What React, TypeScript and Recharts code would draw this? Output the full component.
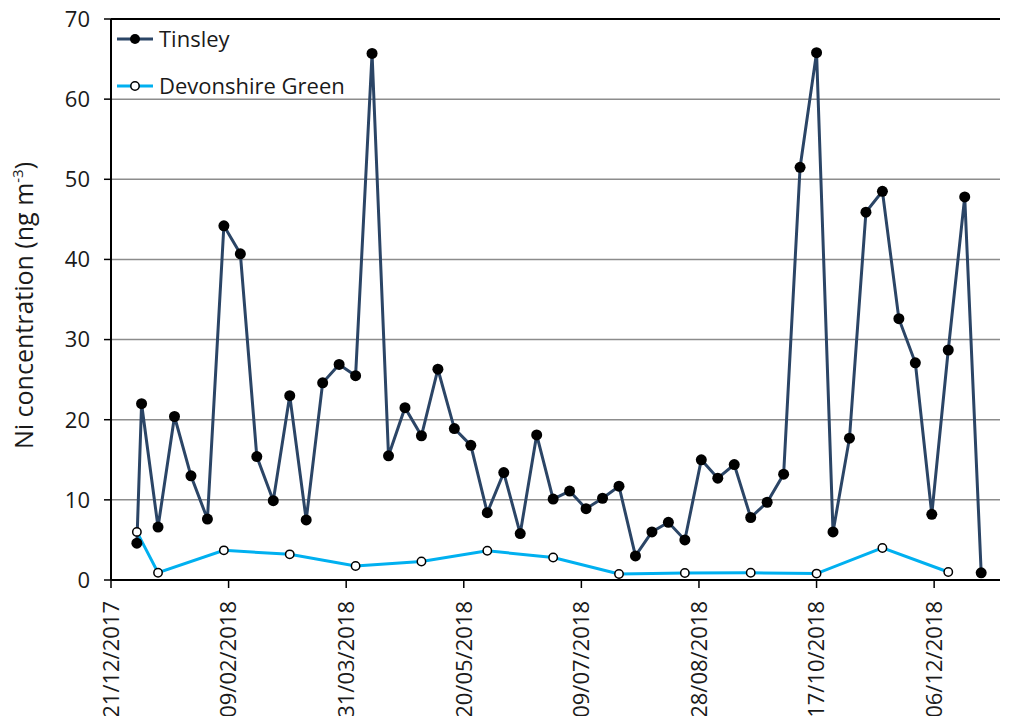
import React from "react";
import {
  LineChart,
  Line,
  XAxis,
  YAxis,
  CartesianGrid,
  ReferenceLine,
  Label,
} from "recharts";

// Sampling dates (dd/mm/yyyy) and Ni concentrations (ng m-3)
const tinsleyDates = [
  "01/01/2018", "03/01/2018", "10/01/2018", "17/01/2018", "24/01/2018", "31/01/2018",
  "07/02/2018", "14/02/2018", "21/02/2018", "28/02/2018", "07/03/2018", "14/03/2018",
  "21/03/2018", "28/03/2018", "04/04/2018", "11/04/2018", "18/04/2018", "25/04/2018",
  "02/05/2018", "09/05/2018", "16/05/2018", "23/05/2018", "30/05/2018", "06/06/2018",
  "13/06/2018", "20/06/2018", "27/06/2018", "04/07/2018", "11/07/2018", "18/07/2018",
  "25/07/2018", "01/08/2018", "08/08/2018", "15/08/2018", "22/08/2018", "29/08/2018",
  "05/09/2018", "12/09/2018", "19/09/2018", "26/09/2018", "03/10/2018", "10/10/2018",
  "17/10/2018", "24/10/2018", "31/10/2018", "07/11/2018", "14/11/2018", "21/11/2018",
  "28/11/2018", "05/12/2018", "12/12/2018", "19/12/2018", "26/12/2018",
];
const tinsleyValues = [
  4.6, 22.0, 6.6, 20.4, 13.0, 7.6,
  44.2, 40.7, 15.4, 9.9, 23.0, 7.5,
  24.6, 26.9, 25.5, 65.7, 15.5, 21.5,
  18.0, 26.3, 18.9, 16.8, 8.4, 13.4,
  5.8, 18.1, 10.1, 11.1, 8.9, 10.2,
  11.7, 3.0, 6.0, 7.2, 5.0, 15.0,
  12.7, 14.4, 7.8, 9.7, 13.2, 51.5,
  65.8, 6.0, 17.7, 45.9, 48.5, 32.6,
  27.1, 8.2, 28.7, 47.8, 0.9,
];

const devonshireDates = [
  "01/01/2018", "10/01/2018", "07/02/2018", "07/03/2018", "04/04/2018", "02/05/2018",
  "30/05/2018", "27/06/2018", "25/07/2018", "22/08/2018", "19/09/2018", "17/10/2018",
  "14/11/2018", "12/12/2018",
];
const devonshireValues = [
  6.0, 0.9, 3.7, 3.2, 1.75, 2.3, 3.65, 2.8, 0.75, 0.87, 0.9, 0.8, 4.0, 1.0,
];

const xTickLabels = [
  "21/12/2017", "09/02/2018", "31/03/2018", "20/05/2018",
  "09/07/2018", "28/08/2018", "17/10/2018", "06/12/2018",
];
const xAxisEnd = "03/01/2019";
const yTicks = [0, 10, 20, 30, 40, 50, 60, 70];

const DAY_MS = 86400000;
const toUtc = (s: string) => {
  const [d, m, y] = s.split("/").map(Number);
  return Date.UTC(y, m - 1, d);
};
const origin = toUtc(xTickLabels[0]);
const toDay = (s: string) => Math.round((toUtc(s) - origin) / DAY_MS);

const tinsleyData = tinsleyDates.map((d, i) => ({ day: toDay(d), value: tinsleyValues[i] }));
const devonshireData = devonshireDates.map((d, i) => ({ day: toDay(d), value: devonshireValues[i] }));
const xTicks = xTickLabels.map(toDay);
const labelByDay: Record<number, string> = {};
xTickLabels.forEach((l) => (labelByDay[toDay(l)] = l));

const FONT = "'Open Sans', 'Liberation Sans', sans-serif";
const TEXT = "#1a1a1a";
const TINSLEY = "#2B4566";
const DEVONSHIRE = "#00B0F0";

const DateTick = (props: any) => {
  const { x, y, payload } = props;
  const ty = y + 11;
  return (
    <text
      x={x}
      y={ty}
      dy="0.36em"
      transform={`rotate(-90, ${x}, ${ty})`}
      textAnchor="end"
      fill={TEXT}
      fontSize={22}
      fontFamily={FONT}
    >
      {labelByDay[payload.value]}
    </text>
  );
};

const YLabel = (props: any) => {
  const vb = props.viewBox || { x: 0, y: 19, width: 111, height: 561 };
  const cx = vb.x + 24;
  const cy = vb.y + vb.height / 2 + 6;
  return (
    <text
      x={cx}
      y={cy}
      dy="0.36em"
      transform={`rotate(-90, ${cx}, ${cy})`}
      textAnchor="middle"
      fill={TEXT}
      fontSize={25}
      fontFamily={FONT}
    >
      Ni concentration (ng m
      <tspan dy={-10} fontSize={15}>-3</tspan>
      <tspan dy={10}>)</tspan>
    </text>
  );
};

// Series key drawn in the upper-left corner of the plot area
const LegendBox = () => (
  <svg width={260} height={90} style={{ display: "block" }}>
    <g>
      <line x1={1} y1={19} x2={37} y2={19} stroke={TINSLEY} strokeWidth={3} />
      <circle cx={19} cy={19} r={5} fill="#000" />
      <text x={43} y={19} dy="0.36em" fontSize={22} fontFamily={FONT} fill={TEXT}>
        Tinsley
      </text>
    </g>
    <g>
      <line x1={1} y1={66} x2={37} y2={66} stroke={DEVONSHIRE} strokeWidth={3} />
      <circle cx={19} cy={66} r={4.2} fill="#fff" stroke="#000" strokeWidth={1.5} />
      <text x={43} y={66} dy="0.36em" fontSize={22} fontFamily={FONT} fill={TEXT}>
        Devonshire Green
      </text>
    </g>
  </svg>
);

export default function App() {
  return (
    <div style={{ margin: -8, width: 1012, height: 724, background: "#fff", position: "relative", overflow: "hidden" }}>
      <LineChart
        width={1012}
        height={724}
        margin={{ top: 19, right: 12, bottom: 0, left: 0 }}
      >
        <CartesianGrid vertical={false} horizontal stroke="#8c8c8c" strokeWidth={1.5} />
        <XAxis
          type="number"
          dataKey="day"
          domain={[0, toDay(xAxisEnd)]}
          ticks={xTicks}
          allowDataOverflow
          height={144}
          axisLine={{ stroke: "#000", strokeWidth: 2 }}
          tickLine={{ stroke: "#000", strokeWidth: 1.5 }}
          tickSize={8}
          tick={<DateTick />}
          interval={0}
        />
        <YAxis
          type="number"
          domain={[0, 70]}
          ticks={yTicks}
          width={111}
          axisLine={{ stroke: "#000", strokeWidth: 2 }}
          tickLine={{ stroke: "#000", strokeWidth: 1.5 }}
          tickSize={7}
          tickMargin={14}
          tick={{ fill: TEXT, fontSize: 22, fontFamily: FONT }}
          interval={0}
        >
          <Label content={<YLabel />} />
        </YAxis>
        <ReferenceLine y={70} stroke="#000" strokeWidth={2} />
        <Line
          data={devonshireData}
          dataKey="value"
          name="Devonshire Green"
          stroke={DEVONSHIRE}
          strokeWidth={3}
          dot={{ r: 4.2, fill: "#fff", stroke: "#000", strokeWidth: 1.5 }}
          activeDot={false}
          isAnimationActive={false}
        />
        <Line
          data={tinsleyData}
          dataKey="value"
          name="Tinsley"
          stroke={TINSLEY}
          strokeWidth={3}
          dot={{ r: 5.5, fill: "#000", stroke: "#000", strokeWidth: 0 }}
          activeDot={false}
          isAnimationActive={false}
        />
      </LineChart>
      <div style={{ position: "absolute", left: 116, top: 20 }}>
        <LegendBox />
      </div>
    </div>
  );
}
